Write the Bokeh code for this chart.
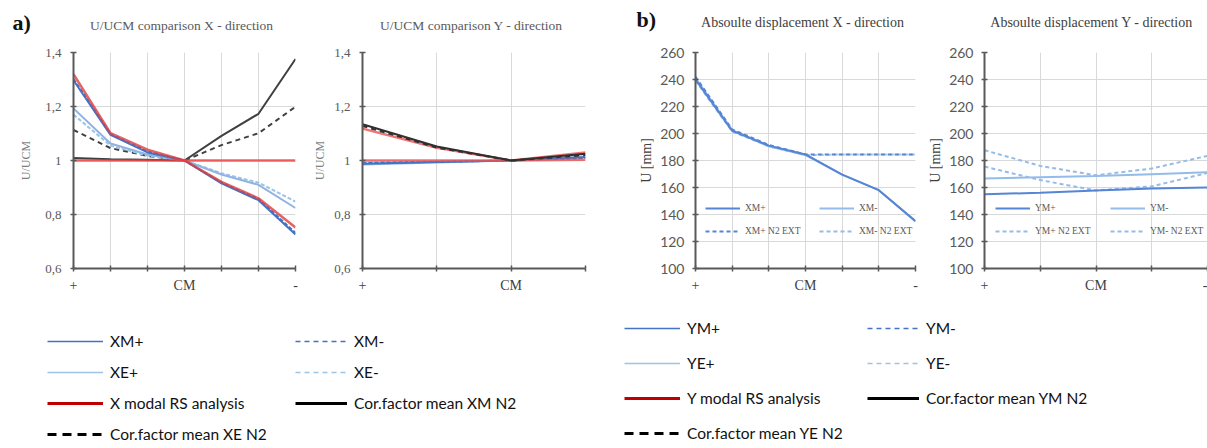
from bokeh.plotting import figure
from bokeh.layouts import row, column
from bokeh.models import Range1d, FixedTicker, CustomJSTickFormatter, Legend, LegendItem
from bokeh.core.properties import value
from bokeh.embed import file_html
from bokeh.resources import INLINE

# ---------------- data ----------------
pos7 = [0, 1, 2, 3, 4, 5, 6]
pos7_labels = ["+", "", "", "CM", "", "", "-"]
pos4 = [0, 1, 2, 3]
pos4_labels = ["+", "", "CM", ""]
pos5 = [0, 1, 2, 3, 4]
pos5_labels = ["+", "", "CM", "", "-"]

ratio_ticks = [0.6, 0.8, 1.0, 1.2, 1.4]
ratio_tick_labels = ["0,6", "0,8", "1", "1,2", "1,4"]
disp_ticks = [100, 120, 140, 160, 180, 200, 220, 240, 260]
disp_tick_labels = ["100", "120", "140", "160", "180", "200", "220", "240", "260"]

panel_tags = ["a)", "b)"]
panel_titles = ["U/UCM comparison X - direction", "U/UCM comparison Y - direction",
                "Absoulte displacement X - direction", "Absoulte displacement  Y - direction"]

# a) U/UCM X direction
xm_plus = [1.297, 1.095, 1.030, 1.0, 0.915, 0.853, 0.726]
xm_minus = [1.302, 1.098, 1.033, 1.0, 0.918, 0.857, 0.732]
xe_plus = [1.193, 1.063, 1.022, 1.0, 0.948, 0.910, 0.824]
xe_minus = [1.170, 1.055, 1.018, 1.0, 0.953, 0.918, 0.848]
x_modal = [1.320, 1.101, 1.040, 1.0, 0.921, 0.860, 0.752]
x_modal_ref = [1.0, 1.0, 1.0, 1.0, 1.0, 1.0, 1.0]
cor_xm = [1.009, 1.005, 1.003, 1.0, 1.091, 1.173, 1.376]
cor_xe = [1.113, 1.046, 1.017, 1.0, 1.057, 1.101, 1.199]

# a) U/UCM Y direction
ym_plus = [0.988, 0.994, 1.0, 1.012]
ym_minus = [0.990, 0.995, 1.0, 1.010]
ye_plus = [0.985, 0.993, 1.0, 1.015]
ye_minus = [0.992, 0.996, 1.0, 1.008]
y_modal = [1.118, 1.047, 1.0, 1.030]
y_modal_ref = [1.0, 1.0, 1.0, 1.003]
cor_ym = [1.134, 1.052, 1.0, 1.025]
cor_ye = [1.128, 1.048, 1.0, 1.020]

# b) absolute displacement X direction [mm]
disp_xm_plus = [240.0, 202.0, 191.0, 184.5, 169.5, 158.0, 135.0]
disp_xm_minus = [241.0, 202.5, 190.5, 184.0, 169.5, 158.0, 135.0]
disp_xm_plus_n2 = [242.0, 203.0, 191.5, 184.5, 184.5, 184.5, 184.5]
disp_xm_minus_n2 = [239.0, 201.5, 190.5, 184.0, 184.5, 184.5, 184.5]

# b) absolute displacement Y direction [mm]
disp_ym_plus = [155.0, 156.1, 157.8, 159.2, 160.1]
disp_ym_minus = [166.6, 167.6, 168.5, 169.9, 171.3]
disp_ym_plus_n2 = [175.5, 165.5, 157.8, 160.8, 170.8]
disp_ym_minus_n2 = [187.6, 176.0, 169.0, 174.1, 183.4]

# ---------------- styles ----------------
SERIF = "Liberation Serif"
SANS = "Lato"
AXIS_C = "#595959"
GRID_C = "#d9d9d9"
BLUE_D = "#4472c4"
BLUE_L = "#9dc3e6"
RED = "#c00000"
PB_D = "#5585d4"
PB_L = "#95bbe9"

LOOKUP = "for (let i = 0; i < tv.length; i++) { if (Math.abs(tv[i] - tick) < 1e-6) { return tl[i]; } } return '';"

# ---------------- heading strip (panel tags and chart titles) ----------------
STRIP_H = 34
strip = figure(width=1207, height=STRIP_H, min_border=0, x_range=Range1d(0, 1207), y_range=Range1d(STRIP_H, 0),
               x_axis_location=None, y_axis_location=None, toolbar_location=None, output_backend="svg")
strip.outline_line_color = None
strip.xgrid.visible = False
strip.ygrid.visible = False
strip.text(x=[12, 636], y=[22, 19], text=panel_tags, text_font=value(SERIF), text_font_size="22px",
           text_font_style="bold", text_color="#111111", text_baseline="middle", text_align="left")
strip.text(x=[181, 471], y=[25, 25], text=panel_titles[:2], text_font=value(SERIF), text_font_size="13.5px",
           text_color="#595959", text_baseline="middle", text_align="center")
strip.text(x=[802, 1093], y=[22, 22], text=panel_titles[2:], text_font=value(SERIF), text_font_size="14px",
           text_color="#404040", text_baseline="middle", text_align="center")


def panel(width, height, left, right, top, bottom, xs, xlabels, yticks, ylabels, yr,
          ylabel, ylabel_size, ylabel_color, ytick_font, ytick_size, ylabel_standoff, ytick_standoff):
    p = figure(width=width, height=height, min_border_left=left, min_border_right=right,
               min_border_top=top, min_border_bottom=bottom,
               x_range=Range1d(xs[0], xs[-1]), y_range=Range1d(yr[0], yr[1]),
               toolbar_location=None, output_backend="svg")
    p.outline_line_color = None
    p.background_fill_color = "white"
    p.border_fill_color = "white"

    p.xaxis.ticker = FixedTicker(ticks=xs)
    p.xaxis.formatter = CustomJSTickFormatter(args=dict(tv=xs, tl=xlabels), code=LOOKUP)
    p.yaxis.ticker = FixedTicker(ticks=yticks)
    p.yaxis.formatter = CustomJSTickFormatter(args=dict(tv=yticks, tl=ylabels), code=LOOKUP)
    for ax in (p.xaxis, p.yaxis):
        ax.axis_line_color = AXIS_C
        ax.axis_line_width = 2
        ax.major_tick_line_color = AXIS_C
        ax.major_tick_line_width = 1.5
        ax.major_tick_in = 3
        ax.major_tick_out = 3
        ax.minor_tick_line_color = None
    p.xaxis.major_label_text_font = SERIF
    p.xaxis.major_label_text_font_size = "14px"
    p.xaxis.major_label_text_color = "#404040"
    p.xaxis.major_label_standoff = 6
    p.yaxis.major_label_text_font = ytick_font
    p.yaxis.major_label_text_font_size = ytick_size
    p.yaxis.major_label_text_color = AXIS_C
    p.yaxis.major_label_standoff = ytick_standoff
    p.yaxis.axis_label = ylabel
    p.yaxis.axis_label_text_font = SERIF
    p.yaxis.axis_label_text_font_size = ylabel_size
    p.yaxis.axis_label_text_font_style = "normal"
    p.yaxis.axis_label_text_color = ylabel_color
    p.yaxis.axis_label_standoff = ylabel_standoff
    p.xgrid.ticker = FixedTicker(ticks=xs)
    p.ygrid.ticker = FixedTicker(ticks=yticks)
    p.grid.grid_line_color = GRID_C
    p.grid.grid_line_width = 1
    return p


H = 312 - STRIP_H

# ---- a1 ----
a1 = panel(310, H, 73, 15, 52 - STRIP_H, 44, pos7, pos7_labels, ratio_ticks, ratio_tick_labels, (0.6, 1.4),
           "U/UCM", "12px", "#7f7f7f", SERIF, "13px", 9, 9)
a1.line(pos7, cor_xm, line_color="#404040", line_width=2)
a1.line(pos7, cor_xe, line_color="#404040", line_width=2, line_dash="5 4")
a1.line(pos7, xe_minus, line_color=BLUE_L, line_width=2, line_dash="4 2")
a1.line(pos7, xe_plus, line_color="#8db4e2", line_width=2)
a1.line(pos7, xm_minus, line_color=BLUE_D, line_width=2, line_dash="4 2")
a1.line(pos7, xm_plus, line_color=BLUE_D, line_width=2)
a1.line(pos7, x_modal, line_color="#e03c3c", line_width=2.5, line_alpha=0.8)
a1.line(pos7, x_modal_ref, line_color="#f03c3c", line_width=2.5, line_alpha=0.8)

# ---- a2 ----
a2 = panel(326, H, 52, 51, 52 - STRIP_H, 44, pos4, pos4_labels, ratio_ticks, ratio_tick_labels, (0.6, 1.4),
           "U/UCM", "12px", "#7f7f7f", SERIF, "13px", 4, 9)
a2.line(pos4, ye_minus, line_color=BLUE_L, line_width=2, line_dash="4 2")
a2.line(pos4, ye_plus, line_color="#8db4e2", line_width=2)
a2.line(pos4, ym_minus, line_color=BLUE_D, line_width=2, line_dash="4 2")
a2.line(pos4, ym_plus, line_color=BLUE_D, line_width=2)
a2.line(pos4, y_modal, line_color="#f05050", line_width=2.5, line_alpha=0.8)
a2.line(pos4, y_modal_ref, line_color="#f05050", line_width=2.5, line_alpha=0.8)
a2.line(pos4, cor_ym, line_color="#303030", line_width=2)
a2.line(pos4, cor_ye, line_color="#303030", line_width=2, line_dash="5 4")

# ---- b1 ----
b1 = panel(289, H, 57, 10, 45 - STRIP_H, 40, pos7, pos7_labels, disp_ticks, disp_tick_labels, (100, 260),
           "U [mm]", "14px", "#404040", SANS, "14px", 3, 8)
rb1 = b1.line(pos7, disp_xm_minus, line_color=PB_L, line_width=2)
rb2 = b1.line(pos7, disp_xm_minus_n2, line_color=PB_L, line_width=2, line_dash="4 3")
rb3 = b1.line(pos7, disp_xm_plus_n2, line_color=PB_D, line_width=2, line_dash="4 3")
rb4 = b1.line(pos7, disp_xm_plus, line_color=PB_D, line_width=2)


def inner_legends(p, items_left, items_right, x1, x2):
    for items, x in ((items_left, x1), (items_right, x2)):
        lg = Legend(items=[LegendItem(label=l, renderers=[r]) for l, r in items],
                    location=(x, 31), orientation="vertical", padding=0, margin=0,
                    spacing=11, glyph_width=35, glyph_height=12, label_height=12,
                    label_standoff=5, label_text_font=SERIF, label_text_font_size="9.5px",
                    label_text_color="#595959", border_line_color=None,
                    background_fill_alpha=0)
        p.add_layout(lg)


inner_legends(b1, [("XM+", rb4), ("XM+ N2 EXT", rb3)], [("XM-", rb1), ("XM- N2 EXT", rb2)], 10, 124)

# ---- b2 ----
b2 = panel(282, H, 57, 0, 43 - STRIP_H, 40, pos5, pos5_labels, disp_ticks, disp_tick_labels, (100, 260),
           "U [mm]", "14px", "#404040", SANS, "14px", 3, 8)
rc1 = b2.line(pos5, disp_ym_minus_n2, line_color=PB_L, line_width=2, line_dash="4 3")
rc2 = b2.line(pos5, disp_ym_plus_n2, line_color=PB_L, line_width=2, line_dash="4 3")
rc3 = b2.line(pos5, disp_ym_minus, line_color=PB_L, line_width=2)
rc4 = b2.line(pos5, disp_ym_plus, line_color=PB_D, line_width=2)
inner_legends(b2, [("YM+", rc4), ("YM+ N2 EXT", rc2)], [("YM-", rc3), ("YM- N2 EXT", rc1)], 11, 126)


# ---------------- bottom legends ----------------
# legend-only panels: the sample lines reuse the chart series but sit outside the visible range
def legend_fig(width, height, xs, cols, pitch_spacing, top_offset):
    f = figure(width=width, height=height, min_border=0, x_range=Range1d(0, 1), y_range=Range1d(1000, 1001),
               x_axis_location=None, y_axis_location=None, toolbar_location=None, output_backend="svg")
    f.outline_line_color = None
    f.xgrid.visible = False
    f.ygrid.visible = False
    for (x, gw, entries) in cols:
        items = []
        for label, ys, color, width_, dash in entries:
            r = f.line(x=xs, y=ys, line_color=color, line_width=width_, line_dash=dash)
            items.append(LegendItem(label=label, renderers=[r]))
        n = len(entries)
        h = n * 20 + (n - 1) * pitch_spacing
        lg = Legend(items=items, location=(x, height - top_offset - h), orientation="vertical",
                    padding=0, margin=0, spacing=pitch_spacing, glyph_width=gw, glyph_height=20,
                    label_height=20, label_standoff=7, label_text_font=SANS,
                    label_text_font_size="15.5px", label_text_color="#111111",
                    border_line_color=None, background_fill_alpha=0)
        f.add_layout(lg)
    return f


legA = legend_fig(612, 136, pos7, [
    (47, 56, [("XM+", xm_plus, BLUE_D, 1.5, "solid"), ("XE+", xe_plus, BLUE_L, 1.5, "solid"),
              ("X modal RS analysis", x_modal, RED, 3, "solid"),
              ("Cor.factor mean XE N2", cor_xe, "#000000", 3, "9 6")]),
    (295, 52, [("XM-", xm_minus, BLUE_D, 1.5, "5 4"), ("XE-", xe_minus, BLUE_L, 1.5, "5 4"),
               ("Cor.factor mean XM N2", cor_xm, "#000000", 3, "solid")]),
], 11, 19)

legB = legend_fig(595, 136, pos4, [
    (12, 56, [("YM+", ym_plus, BLUE_D, 1.5, "solid"), ("YE+", ye_plus, BLUE_L, 1.5, "solid"),
              ("Y modal RS analysis", y_modal, RED, 3, "solid"),
              ("Cor.factor mean YE N2", cor_ye, "#000000", 3, "9 6")]),
    (255, 52, [("YM-", ym_minus, BLUE_D, 1.5, "5 4"), ("YE-", ye_minus, BLUE_L, 1.5, "5 4"),
               ("Cor.factor mean YM N2", cor_ym, "#000000", 3, "solid")]),
], 15, 6)

layout = column(strip, row(a1, a2, b1, b2), row(legA, legB))
open("out.html", "w").write(file_html(layout, INLINE))
